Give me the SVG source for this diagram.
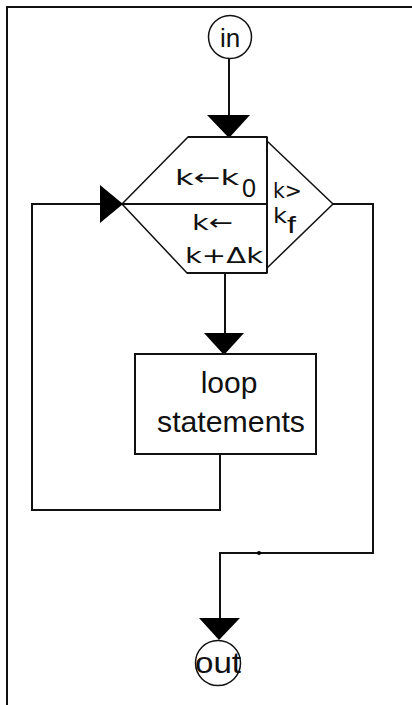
<svg xmlns="http://www.w3.org/2000/svg" width="412" height="705" viewBox="0 0 412 705">
<style>
.ln{fill:none;stroke:#111;stroke-width:2}
.th{fill:none;stroke:#111;stroke-width:1.5}
.ah{fill:#000;stroke:none}
.t{font-family:"Liberation Sans",Arial,sans-serif;fill:#111}
.d{font-family:"DejaVu Sans","Liberation Sans",sans-serif;fill:#111}
</style>
<rect width="412" height="705" fill="#fff"/>
<path class="ln" d="M7,705 V7 H412"/>
<g id="connectors">
<line class="ln" x1="229" y1="59" x2="229" y2="120"/>
<polygon class="ah" points="207,115 250,115 229,138"/>
<line class="ln" x1="225" y1="273" x2="225" y2="338"/>
<polygon class="ah" points="204,333 244,333 224,355"/>
<path class="ln" d="M220,454 V510 H32 V204 H104"/>
<polygon class="ah" points="100,185 100,223 123,204"/>
<path class="ln" d="M333,204 H373 V553 H220 V622"/>
<circle cx="259" cy="553" r="2" fill="#000"/>
<polygon class="ah" points="199,618 240,618 219,640"/>
</g>
<g id="in">
<circle class="th" cx="230" cy="37" r="21.5"/>
<text class="t" x="230" y="47" font-size="26" text-anchor="middle">in</text>
</g>
<g id="loop-head">
<polygon class="th" points="188,137 267,137 267,273 187,273 122,204"/>
<line class="ln" x1="188" y1="137" x2="267" y2="137"/>
<line class="ln" x1="187" y1="273" x2="267" y2="273"/>
<line class="ln" x1="267" y1="137" x2="267" y2="273"/>
<line class="ln" x1="122" y1="204" x2="267" y2="204"/>
<polyline class="th" points="267,141 333,204 267,268"/>
<text class="d" x="175" y="185" font-size="22" textLength="64" lengthAdjust="spacingAndGlyphs">k←k</text>
<text class="t" x="242" y="197" font-size="26" textLength="14" lengthAdjust="spacingAndGlyphs">0</text>
<text class="d" x="273" y="198" font-size="22" textLength="29" lengthAdjust="spacingAndGlyphs">k&gt;</text>
<text class="d" x="273" y="223" font-size="22" textLength="14" lengthAdjust="spacingAndGlyphs">k</text>
<text class="t" x="287" y="233" font-size="24" textLength="9" lengthAdjust="spacingAndGlyphs">f</text>
<text class="d" x="192" y="230" font-size="22" textLength="41" lengthAdjust="spacingAndGlyphs">k←</text>
<text class="d" x="185" y="263" font-size="22" textLength="78" lengthAdjust="spacingAndGlyphs">k+Δk</text>
</g>
<g id="body">
<rect class="ln" x="135" y="354" width="181" height="100"/>
<text class="t" x="229" y="393" font-size="30" text-anchor="middle">loop</text>
<text class="t" x="231" y="432" font-size="30" text-anchor="middle" textLength="148" lengthAdjust="spacingAndGlyphs">statements</text>
</g>
<g id="out">
<circle class="th" cx="218" cy="663" r="22.5"/>
<text class="t" x="218" y="673" font-size="30" text-anchor="middle" textLength="46" lengthAdjust="spacingAndGlyphs">out</text>
</g>
</svg>
